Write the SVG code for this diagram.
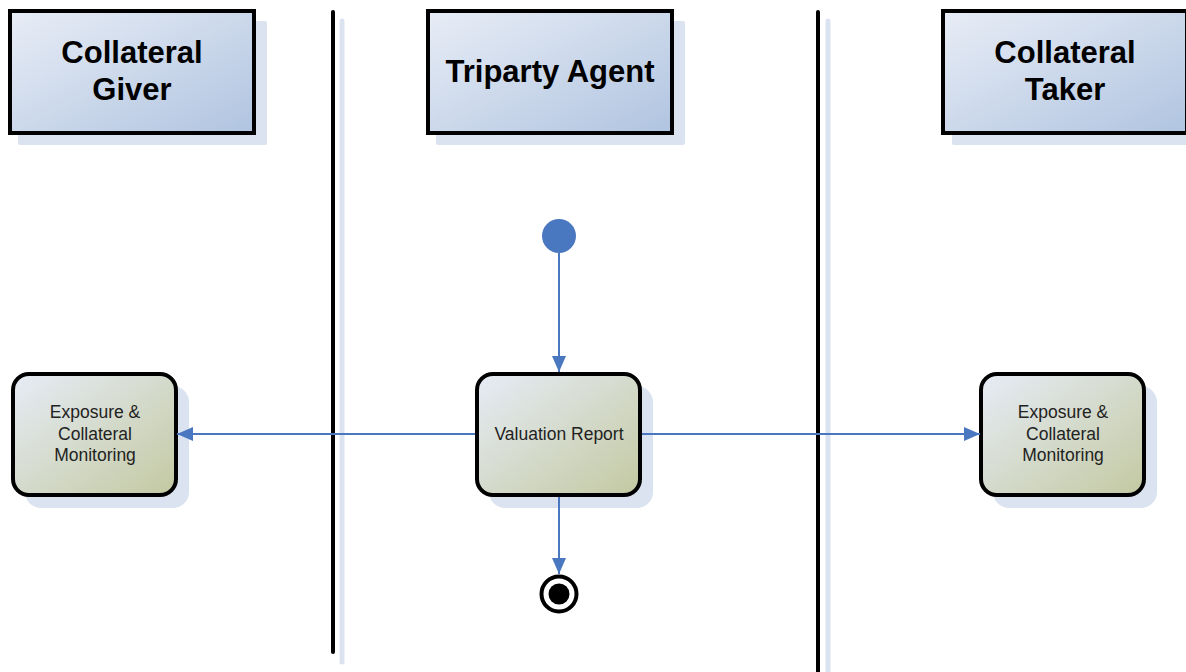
<svg xmlns="http://www.w3.org/2000/svg" width="1186" height="672" viewBox="0 0 1186 672">
<defs>
<linearGradient id="hdr" x1="0" y1="0" x2="1" y2="1">
<stop offset="0" stop-color="#e8edf6"/>
<stop offset="1" stop-color="#b0c4e0"/>
</linearGradient>
<linearGradient id="act" x1="0" y1="0" x2="1" y2="1">
<stop offset="0" stop-color="#e6ecf6"/>
<stop offset="1" stop-color="#c3c9a1"/>
</linearGradient>
<marker id="ah2" viewBox="0 0 16 14" refX="16" refY="7" markerWidth="16" markerHeight="14" markerUnits="userSpaceOnUse" orient="auto">
<path d="M0,0 L16,7 L0,14 z" fill="#4a78c0"/>
</marker>
</defs>
<style>
.shadow{fill:#dbe3f1}
.hbox{fill:url(#hdr);stroke:#000;stroke-width:4}
.abox{fill:url(#act);stroke:#000;stroke-width:4}
.htxt{font-family:"Liberation Sans",Arial,sans-serif;font-weight:bold;font-size:31px;fill:#000;text-anchor:middle}
.atxt{font-family:"Liberation Sans",Arial,sans-serif;font-size:17.5px;fill:#222;text-anchor:middle}
.lane{stroke:#000;stroke-width:4;stroke-linecap:round}
.laneshadow{stroke:#dbe3f1;stroke-width:5;stroke-linecap:round}
.conn{stroke:#4a78c0;stroke-width:2;fill:none;marker-end:url(#ah2)}
</style>
<rect width="1186" height="672" fill="#fff"/>
<g id="lanes">
<line class="laneshadow" x1="342" y1="21" x2="342" y2="662"/>
<line class="lane" x1="333" y1="12" x2="333" y2="652"/>
<line class="laneshadow" x1="828" y1="21" x2="828" y2="680"/>
<line class="lane" x1="818" y1="12" x2="818" y2="680"/>
</g>
<g id="hdr-giver">
<rect class="shadow" x="18" y="21" width="249" height="124" rx="2"/>
<rect class="hbox" x="10" y="11" width="244" height="122"/>
<text class="htxt" x="132" y="63">Collateral</text>
<text class="htxt" x="132" y="100">Giver</text>
</g>
<g id="hdr-agent">
<rect class="shadow" x="436" y="21" width="249" height="124" rx="2"/>
<rect class="hbox" x="428" y="11" width="244" height="122"/>
<text class="htxt" x="550" y="82">Triparty Agent</text>
</g>
<g id="hdr-taker">
<rect class="shadow" x="952" y="21" width="249" height="124" rx="2"/>
<rect class="hbox" x="943" y="11" width="244" height="122"/>
<text class="htxt" x="1065" y="63">Collateral</text>
<text class="htxt" x="1065" y="100">Taker</text>
</g>
<g id="start">
<circle cx="559" cy="236" r="17" fill="#4a78c0"/>
</g>
<g id="act-giver">
<rect class="shadow" x="25" y="386" width="164" height="122" rx="16"/>
<rect class="abox" x="13" y="374" width="163" height="121" rx="16"/>
<text class="atxt" x="95" y="418">Exposure &amp;</text>
<text class="atxt" x="95" y="440">Collateral</text>
<text class="atxt" x="95" y="461">Monitoring</text>
</g>
<g id="act-valuation">
<rect class="shadow" x="489" y="386" width="164" height="122" rx="16"/>
<rect class="abox" x="477" y="374" width="163" height="121" rx="16"/>
<text class="atxt" x="559" y="440">Valuation Report</text>
</g>
<g id="act-taker">
<rect class="shadow" x="993" y="386" width="164" height="122" rx="16"/>
<rect class="abox" x="981" y="374" width="163" height="121" rx="16"/>
<text class="atxt" x="1063" y="418">Exposure &amp;</text>
<text class="atxt" x="1063" y="440">Collateral</text>
<text class="atxt" x="1063" y="461">Monitoring</text>
</g>
<g id="end">
<circle cx="559" cy="594" r="17.5" fill="#fff" stroke="#000" stroke-width="4"/>
<circle cx="559" cy="594" r="10.5" fill="#000"/>
</g>
<g id="connectors">
<line class="conn" x1="559" y1="253" x2="559" y2="372"/>
<line class="conn" x1="559" y1="497" x2="559" y2="574"/>
<line class="conn" x1="475" y1="434" x2="177" y2="434"/>
<line class="conn" x1="642" y1="434" x2="980" y2="434"/>
</g>
</svg>
